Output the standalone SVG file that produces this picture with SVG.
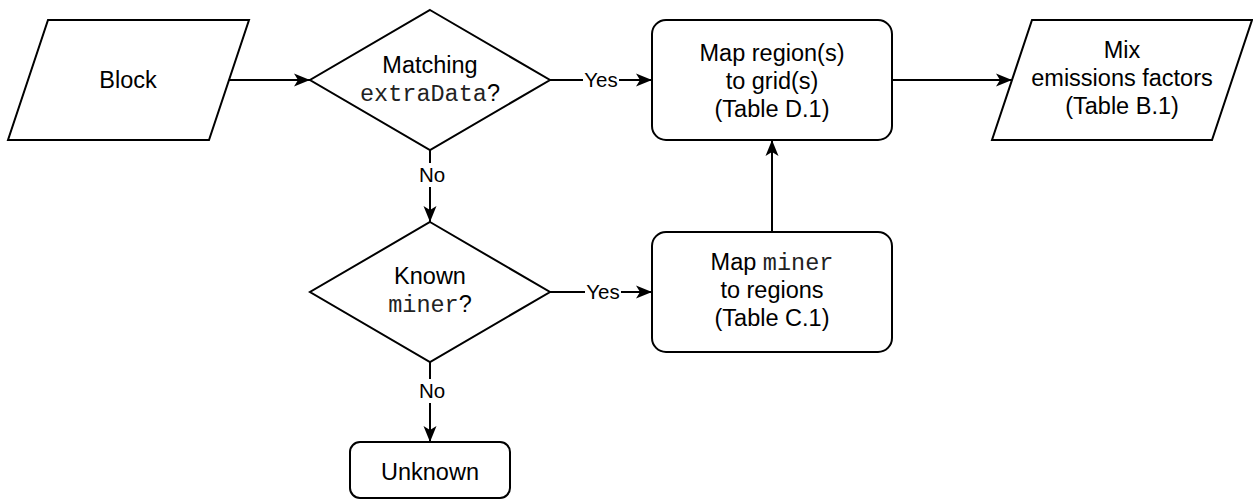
<svg xmlns="http://www.w3.org/2000/svg" width="1253" height="501" viewBox="0 0 1253 501">
<style>
.shape{fill:#fff;stroke:#000;stroke-width:2}
.edge{fill:none;stroke:#000;stroke-width:2}
.t{font-family:"Liberation Sans",Arial,Helvetica,sans-serif;font-size:23.5px;fill:#000;text-anchor:middle}
.m{font-family:"Liberation Mono","Courier New",monospace;fill:#222}
.lbl{font-family:"Liberation Sans",Arial,Helvetica,sans-serif;font-size:20.5px;fill:#000;text-anchor:middle}
.bg{fill:#fff;stroke:none}
</style>
<defs>
<marker id="arr" markerUnits="userSpaceOnUse" markerWidth="17" markerHeight="14" refX="16" refY="7" orient="auto">
<path d="M0,0.5 L16,7 L0,13.5 L4,7 z" fill="#000"/>
</marker>
</defs>
<rect width="1253" height="501" fill="#fff"/>
<g id="connectors">
<path class="edge" d="M229,80 L310,80" marker-end="url(#arr)"/>
<path class="edge" d="M550,80 L652,80" marker-end="url(#arr)"/>
<path class="edge" d="M430,150 L430,222" marker-end="url(#arr)"/>
<path class="edge" d="M892,80 L1012,80" marker-end="url(#arr)"/>
<path class="edge" d="M550,292 L652,292" marker-end="url(#arr)"/>
<path class="edge" d="M772,232 L772,140" marker-end="url(#arr)"/>
<path class="edge" d="M430,362 L430,442" marker-end="url(#arr)"/>
<rect class="bg" x="583" y="68" width="36" height="24"/>
<text class="lbl" x="601" y="87">Yes</text>
<rect class="bg" x="418" y="163" width="28" height="24"/>
<text class="lbl" x="432" y="182">No</text>
<rect class="bg" x="585" y="280" width="36" height="24"/>
<text class="lbl" x="603" y="299">Yes</text>
<rect class="bg" x="418" y="379" width="28" height="24"/>
<text class="lbl" x="432" y="398">No</text>
</g>
<g id="block">
<path class="shape" d="M48,20 L249,20 L209,140 L8,140 Z"/>
<text class="t" x="128" y="88">Block</text>
</g>
<g id="matching">
<path class="shape" d="M430,10 L550,80 L430,150 L310,80 Z"/>
<text class="t" x="430" y="73">Matching</text>
<text class="t" x="430" y="101"><tspan class="m">extraData</tspan>?</text>
</g>
<g id="map-grid">
<rect class="shape" x="652" y="20" width="240" height="120" rx="14" ry="14"/>
<text class="t" x="772" y="61">Map region(s)</text>
<text class="t" x="772" y="89">to grid(s)</text>
<text class="t" x="772" y="117">(Table D.1)</text>
</g>
<g id="mix">
<path class="shape" d="M1032,20 L1252,20 L1212,140 L992,140 Z"/>
<text class="t" x="1122" y="58">Mix</text>
<text class="t" x="1122" y="86">emissions factors</text>
<text class="t" x="1122" y="114">(Table B.1)</text>
</g>
<g id="known">
<path class="shape" d="M430,222 L550,292 L430,362 L310,292 Z"/>
<text class="t" x="430" y="284">Known</text>
<text class="t" x="430" y="312"><tspan class="m">miner</tspan>?</text>
</g>
<g id="map-miner">
<rect class="shape" x="652" y="232" width="240" height="120" rx="14" ry="14"/>
<text class="t" x="772" y="270">Map <tspan class="m">miner</tspan></text>
<text class="t" x="772" y="298">to regions</text>
<text class="t" x="772" y="326">(Table C.1)</text>
</g>
<g id="unknown">
<rect class="shape" x="350" y="442" width="160" height="56" rx="10" ry="10"/>
<text class="t" x="430" y="480">Unknown</text>
</g>
</svg>
